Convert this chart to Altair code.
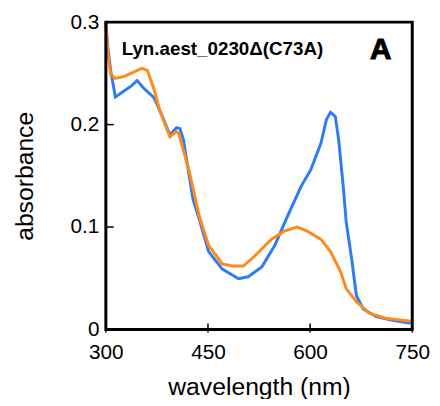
import altair as alt
import pandas as pd

blue_wl = [300, 303, 307, 314, 325, 338, 346, 355, 371, 383, 394, 404, 409, 414, 428, 437, 451, 471, 495, 509, 529, 548, 567, 587, 601, 616, 624, 630, 637, 642, 649, 653, 661, 668, 678, 697, 721, 748]
blue_abs = [0.300, 0.275, 0.253, 0.227, 0.232, 0.238, 0.243, 0.236, 0.226, 0.208, 0.190, 0.197, 0.196, 0.185, 0.127, 0.108, 0.076, 0.059, 0.0495, 0.0515, 0.061, 0.082, 0.111, 0.140, 0.156, 0.182, 0.205, 0.212, 0.208, 0.185, 0.137, 0.105, 0.069, 0.033, 0.020, 0.0126, 0.009, 0.006]

orange_wl = [300, 303, 307, 314, 327, 340, 353, 361, 371, 379, 394, 403, 407, 411, 423, 437, 451, 471, 486, 502, 519, 543, 562, 581, 596, 616, 630, 645, 653, 668, 688, 711, 748]
orange_abs = [0.300, 0.270, 0.249, 0.245, 0.247, 0.251, 0.255, 0.253, 0.234, 0.214, 0.188, 0.193, 0.192, 0.182, 0.153, 0.111, 0.082, 0.064, 0.062, 0.062, 0.072, 0.088, 0.096, 0.100, 0.096, 0.088, 0.076, 0.056, 0.040, 0.027, 0.0155, 0.011, 0.008]

x_ticks = [300, 450, 600, 750]
y_ticks = [0, 0.1, 0.2, 0.3]

W, H = 310, 311

df = pd.concat([
    pd.DataFrame({"wl": blue_wl, "abs": blue_abs, "s": "blue", "o": range(len(blue_wl))}),
    pd.DataFrame({"wl": orange_wl, "abs": orange_abs, "s": "orange", "o": range(len(orange_wl))}),
])

x = alt.X("wl:Q", scale=alt.Scale(domain=[300, 750], nice=False),
          axis=alt.Axis(values=x_ticks, title="wavelength (nm)", grid=False,
                        ticks=False, domain=False,
                        labelFont="Liberation Sans", labelFontSize=21, labelColor="black",
                        labelPadding=12, labelFlush=False,
                        titleFont="Liberation Sans", titleFontSize=25, titleFontWeight="normal",
                        titleColor="black", titlePadding=13))
y = alt.Y("abs:Q", scale=alt.Scale(domain=[0, 0.3], nice=False),
          axis=alt.Axis(values=y_ticks, format="~g", title="absorbance", grid=False,
                        ticks=False, domain=False,
                        labelFont="Liberation Sans", labelFontSize=21, labelColor="black",
                        labelPadding=7, labelFlush=False,
                        titleFont="Liberation Sans", titleFontSize=25, titleFontWeight="normal",
                        titleColor="black", titlePadding=33))

lines = alt.Chart(df).mark_line(strokeWidth=3).encode(
    x=x, y=y, order="o:Q",
    color=alt.Color("s:N", scale=alt.Scale(domain=["blue", "orange"], range=["#2f7bf7", "#ff8a1c"]), legend=None),
)

frame = alt.Chart(pd.DataFrame({"f": [0]})).mark_rect(
    fill=None, fillOpacity=0, stroke="black", strokeWidth=3
).encode(x=alt.value(0), x2=alt.value(W), y=alt.value(0), y2=alt.value(H))

yt = alt.Chart(pd.DataFrame({"abs": y_ticks})).mark_rule(color="black", strokeWidth=1.5).encode(
    y="abs:Q", x=alt.value(0), x2=alt.value(8))
xt = alt.Chart(pd.DataFrame({"wl": x_ticks})).mark_rule(color="black", strokeWidth=1.5).encode(
    x="wl:Q", y=alt.value(H - 6), y2=alt.value(H + 3))

label = alt.Chart(pd.DataFrame({"t": ["Lyn.aest_0230\u0394(C73A)"]})).mark_text(
    align="left", baseline="middle", font="Liberation Sans", fontSize=19, fontWeight="bold", color="black"
).encode(x=alt.value(16), y=alt.value(27), text="t:N")

letter = alt.Chart(pd.DataFrame({"t": ["A"]})).mark_text(
    align="center", baseline="middle", font="Liberation Sans", fontSize=30, fontWeight="bold",
    color="black", stroke="black", strokeWidth=1
).encode(x=alt.value(278), y=alt.value(28), text="t:N")

chart = alt.layer(lines, yt, xt, frame, label, letter).properties(
    width=W, height=H,
    autosize=alt.AutoSizeParams(type="none"),
    padding={"left": 99, "top": 12, "right": 20, "bottom": 68},
    background="white",
).configure_view(stroke=None)

chart.save("out.html", embed_options={"renderer": "svg", "actions": False})
